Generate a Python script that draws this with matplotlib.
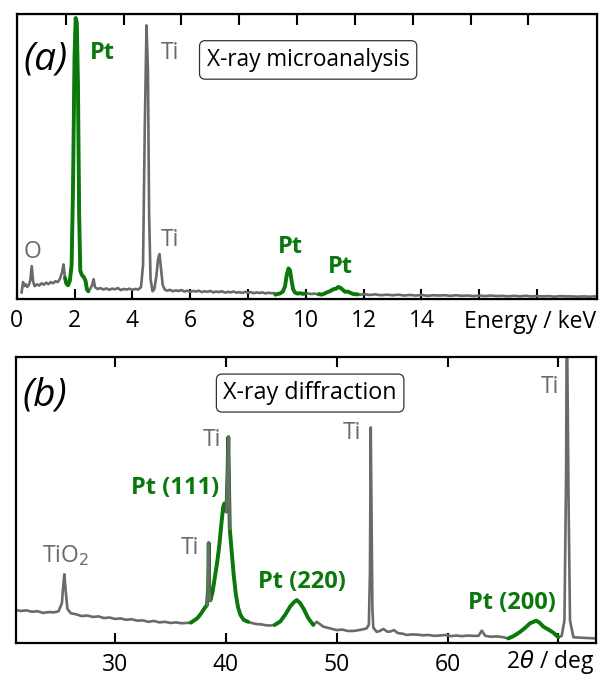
import numpy as np
import matplotlib
matplotlib.use('Agg')
import matplotlib.pyplot as plt

plt.rcParams['font.family'] = ['Open Sans', 'DejaVu Sans']

GREY = '#6a6a6a'
GREEN = '#0a780a'

# (a) X-ray microanalysis spectrum, energy in keV, counts in arbitrary units
eds_energy = [0.17, 0.22, 0.27, 0.32, 0.37, 0.42, 0.47, 0.52, 0.57, 0.62, 0.70, 0.78,
              0.86, 0.94, 1.02, 1.10, 1.18, 1.26, 1.34, 1.42, 1.50, 1.57, 1.62, 1.67,
              1.72, 1.78, 1.84, 1.90, 1.95, 2.00, 2.04, 2.08, 2.12, 2.16, 2.20, 2.26,
              2.32, 2.38, 2.43, 2.48, 2.55, 2.61, 2.66, 2.71, 2.80, 2.90, 3.00, 3.10,
              3.20, 3.30, 3.40, 3.50, 3.60, 3.70, 3.80, 3.90, 4.00, 4.10, 4.20, 4.30,
              4.37, 4.43, 4.49, 4.54, 4.58, 4.63, 4.70, 4.76, 4.83, 4.89, 4.94, 4.99,
              5.05, 5.12, 5.20, 5.30, 5.40, 5.50, 5.60, 5.70, 5.80, 5.90, 6.00, 6.10,
              6.20, 6.30, 6.40, 6.50, 6.60, 6.70, 6.80, 6.90, 7.00, 7.10, 7.20, 7.30,
              7.40, 7.50, 7.60, 7.70, 7.80, 7.90, 8.00, 8.10, 8.20, 8.30, 8.40, 8.50,
              8.60, 8.70, 8.80, 8.90, 8.95, 9.00, 9.10, 9.20, 9.28, 9.34, 9.40, 9.45,
              9.50, 9.56, 9.62, 9.70, 9.80, 9.90, 9.99, 10.10, 10.20, 10.30, 10.40, 10.45,
              10.55, 10.65, 10.75, 10.85, 10.95, 11.05, 11.12, 11.20, 11.28, 11.36, 11.45, 11.55,
              11.65, 11.80, 11.90, 12.00, 12.20, 12.40, 12.60, 12.80, 13.00, 13.20, 13.40, 13.60,
              13.80, 14.00, 14.20, 14.40, 14.60, 14.80, 15.00, 15.20, 15.40, 15.60, 15.80, 16.00,
              16.20, 16.40, 16.60, 16.80, 17.00, 17.20, 17.40, 17.60, 17.80, 18.00, 18.20, 18.40,
              18.60, 18.80, 19.00, 19.20, 19.40, 19.60, 19.80, 20.00]
eds_counts = [2.4, 6.0, 4.6, 5.2, 4.3, 5.0, 6.5, 11.6, 6.2, 4.6, 5.2, 4.8,
              5.6, 5.1, 5.8, 5.3, 6.0, 5.6, 6.3, 6.0, 7.2, 9.5, 12.2, 7.5,
              5.4, 4.9, 6.5, 12.0, 40.0, 85.0, 98.6, 97.0, 75.0, 30.0, 10.0, 8.4,
              7.8, 6.5, 3.4, 2.8, 3.8, 5.0, 7.0, 4.2, 3.6, 3.9, 3.4, 3.8,
              3.3, 3.7, 3.5, 3.9, 3.2, 3.6, 3.4, 3.7, 3.3, 3.6, 3.4, 4.2,
              12.0, 60.0, 96.0, 80.0, 30.0, 7.0, 2.8, 3.5, 8.0, 14.0, 15.8, 11.0,
              5.0, 3.4, 3.0, 3.3, 2.8, 3.1, 2.9, 3.2, 2.7, 3.0, 2.6, 2.9,
              2.7, 3.0, 2.5, 2.8, 2.6, 2.9, 2.4, 2.7, 2.5, 2.8, 2.3, 2.6,
              2.4, 2.7, 2.3, 2.5, 2.2, 2.6, 2.3, 2.5, 2.1, 2.4, 2.2, 2.4,
              2.0, 2.3, 2.1, 2.2, 1.6, 1.8, 2.0, 2.6, 4.5, 8.5, 10.8, 10.2,
              7.0, 3.5, 2.4, 2.0, 2.1, 1.9, 2.0, 2.0, 1.8, 2.0, 1.7, 1.8,
              1.6, 2.0, 2.5, 2.9, 3.5, 3.7, 4.3, 4.0, 3.3, 2.6, 2.7, 2.2,
              1.8, 1.7, 1.6, 1.8, 1.5, 1.7, 1.4, 1.6, 1.4, 1.6, 1.3, 1.5,
              1.3, 1.5, 1.2, 1.4, 1.3, 1.4, 1.2, 1.4, 1.2, 1.3, 1.1, 1.3,
              1.1, 1.3, 1.1, 1.2, 1.0, 1.2, 1.0, 1.2, 1.0, 1.1, 1.0, 1.1,
              0.9, 1.1, 1.0, 1.0, 0.9, 1.0, 0.9, 1.0]
# energy ranges assigned to Pt lines
eds_pt_ranges = [(1.67, 2.48), (8.95, 9.99), (10.45, 11.80)]

# (b) X-ray diffraction pattern, 2theta in deg, intensity in arbitrary units
xrd_angle = [21.06, 21.5, 22.0, 22.5, 23.0, 23.5, 24.0, 24.5, 24.9, 25.2, 25.32, 25.42,
             25.55, 25.7, 26.0, 26.5, 27.0, 27.5, 28.0, 28.5, 29.0, 29.5, 30.0, 30.5,
             31.0, 31.5, 32.0, 32.5, 33.0, 33.5, 34.0, 34.5, 35.0, 35.5, 36.0, 36.4,
             36.83, 37.1, 37.4, 37.65, 37.86, 38.1, 38.3, 38.40, 38.45, 38.50, 38.6, 38.8,
             38.96, 39.2, 39.4, 39.6, 39.75, 39.85, 39.95, 40.05, 40.15, 40.22, 40.28, 40.35,
             40.5, 40.7, 40.9, 41.1, 41.3, 41.6, 42.0, 42.4, 42.8, 43.2, 43.6, 44.0,
             44.4, 44.9, 45.34, 45.79, 46.1, 46.39, 46.7, 46.99, 47.44, 47.89, 48.2, 48.8,
             49.4, 50.0, 50.5, 51.0, 51.5, 52.0, 52.4, 52.7, 52.9, 53.0, 53.07, 53.15,
             53.22, 53.3, 53.6, 53.9, 54.2, 54.6, 54.9, 55.17, 55.5, 56.0, 56.3, 56.8,
             57.3, 57.8, 58.3, 58.8, 59.3, 59.8, 60.3, 60.8, 61.3, 61.8, 62.3, 62.8,
             63.09, 63.4, 63.9, 64.4, 64.9, 65.49, 66.0, 66.55, 67.0, 67.45, 68.0, 68.3,
             68.65, 69.1, 69.55, 70.0, 70.3, 70.55, 70.7, 70.76, 70.85, 70.92, 71.05, 71.36,
             71.8, 72.3, 72.8, 73.4]
xrd_intensity = [11.6, 11.3, 11.5, 11.0, 11.2, 10.6, 10.9, 10.8, 11.2, 14.0, 20.0, 24.1,
                 18.0, 12.0, 10.5, 10.1, 9.5, 9.7, 9.2, 9.4, 8.8, 9.0, 8.5, 8.7,
                 8.2, 8.4, 7.9, 8.0, 7.5, 7.8, 7.3, 7.5, 7.1, 7.3, 7.0, 7.1,
                 7.2, 7.9, 8.7, 9.8, 11.0, 12.4, 13.4, 20.0, 35.0, 18.0, 15.0, 18.0,
                 22.0, 28.0, 34.0, 42.0, 47.5, 48.8, 48.0, 46.0, 60.0, 72.0, 55.0, 40.0,
                 33.0, 24.0, 17.0, 12.5, 10.0, 8.2, 7.5, 7.0, 6.7, 6.6, 6.3, 6.2,
                 6.4, 7.6, 9.9, 12.8, 14.2, 15.1, 14.0, 12.2, 8.7, 6.4, 7.5, 5.8,
                 5.2, 4.6, 4.8, 4.3, 4.3, 4.6, 4.9, 5.2, 6.5, 25.0, 75.4, 39.5,
                 12.0, 5.5, 4.0, 4.3, 5.0, 4.0, 4.2, 4.6, 3.6, 3.3, 2.9, 3.1,
                 3.0, 2.8, 2.9, 2.6, 2.7, 2.9, 2.5, 2.7, 2.5, 2.7, 2.6, 2.6,
                 4.4, 2.6, 2.3, 2.4, 2.2, 1.7, 2.6, 4.0, 5.4, 7.0, 7.9, 7.2,
                 5.8, 4.8, 3.7, 2.1, 2.6, 8.0, 60.0, 120.0, 80.0, 50.0, 8.0, 2.1,
                 2.0, 1.9, 1.8, 1.7]
xrd_pt_ranges = [(36.83, 42.0), (44.4, 47.89), (65.49, 70.0)]
# narrow Ti reflections drawn over the Pt(111) band
xrd_ti_spikes = [(38.3, 38.6), (40.05, 40.35)]


def draw_pattern(ax, x, y, pt_ranges, ti_spikes=()):
    x = np.asarray(x)
    y = np.asarray(y)
    ax.plot(x, y, color=GREY, lw=1.9, zorder=2)
    for lo, hi in pt_ranges:
        m = (x >= lo) & (x <= hi)
        ax.plot(x[m], y[m], color=GREEN, lw=2.8, zorder=3, solid_capstyle='round')
    for lo, hi in ti_spikes:
        m = (x >= lo) & (x <= hi)
        ax.plot(x[m], y[m], color=GREY, lw=1.9, zorder=4)


def style_axes(ax):
    for s in ax.spines.values():
        s.set_linewidth(1.6)
    ax.set_yticks([])
    ax.tick_params(axis='x', which='both', direction='in', length=7, width=1.5,
                   labelsize=16.5, pad=7, top=False)


fig = plt.figure(figsize=(6.02, 6.77), dpi=100)

# ---- panel (a)
ax1 = fig.add_axes([0.0277, 0.5580, 0.9640, 0.4213])
draw_pattern(ax1, eds_energy, eds_counts, eds_pt_ranges)
ax1.set_xlim(0, 20.07)
ax1.set_ylim(0, 100)
style_axes(ax1)
ax1.set_xticks(np.arange(0, 19, 2))
ax1.set_xticklabels(['0', '2', '4', '6', '8', '10', '12', '14', '', ''])
top1 = ax1.twiny()
top1.set_xlim(ax1.get_xlim())
top1.set_xticks(np.arange(1.7, 18, 2))
top1.tick_params(axis='x', direction='in', length=8, width=1.5, labeltop=False)

ax1.text(0.049, 0.84, '(a)', transform=ax1.transAxes, fontsize=28, style='italic',
         ha='center', va='center')
ax1.text(0.885, -0.102, 'Energy / keV', transform=ax1.transAxes, fontsize=16.5,
         ha='center', va='baseline')
ax1.text(10.08, 83.9, 'X-ray microanalysis', fontsize=16.3, ha='center', va='center',
         bbox=dict(boxstyle='round,pad=0.32,rounding_size=0.25', fc='white', ec='#333333', lw=0.9))
ax1.text(2.95, 86.3, 'Pt', color=GREEN, fontsize=17, fontweight='bold', ha='center', va='center')
ax1.text(5.31, 86.3, 'Ti', color=GREY, fontsize=16.5, ha='center', va='center')
ax1.text(0.54, 16.5, 'O', color=GREY, fontsize=16.5, ha='center', va='center')
ax1.text(5.31, 20.7, 'Ti', color=GREY, fontsize=16.5, ha='center', va='center')
ax1.text(9.46, 18.2, 'Pt', color=GREEN, fontsize=17, fontweight='bold', ha='center', va='center')
ax1.text(11.19, 11.2, 'Pt', color=GREEN, fontsize=17, fontweight='bold', ha='center', va='center')

# ---- panel (b)
ax2 = fig.add_axes([0.0266, 0.0498, 0.9635, 0.4229])
draw_pattern(ax2, xrd_angle, xrd_intensity, xrd_pt_ranges, xrd_ti_spikes)
ax2.set_xlim(21.06, 73.4)
ax2.set_ylim(0, 100)
style_axes(ax2)
ax2.set_xticks([30, 40, 50, 60, 70])
ax2.set_xticklabels(['30', '40', '50', '60', ''])
ax2.tick_params(axis='x', top=True)

ax2.text(0.05, 0.867, '(b)', transform=ax2.transAxes, fontsize=28, style='italic',
         ha='center', va='center')
ax2.text(0.921, -0.088, r'2$\theta$ / deg', transform=ax2.transAxes, fontsize=16.5,
         ha='center', va='baseline')
ax2.text(47.6, 87.4, 'X-ray diffraction', fontsize=16.8, ha='center', va='center',
         bbox=dict(boxstyle='round,pad=0.3,rounding_size=0.25', fc='white', ec='#333333', lw=0.9))
ax2.text(25.48, 30.5, r'TiO$_2$', color=GREY, fontsize=16.5, ha='center', va='center')
ax2.text(36.76, 33.3, 'Ti', color=GREY, fontsize=16.5, ha='center', va='center')
ax2.text(38.72, 71.0, 'Ti', color=GREY, fontsize=16.5, ha='center', va='center')
ax2.text(51.36, 73.3, 'Ti', color=GREY, fontsize=16.5, ha='center', va='center')
ax2.text(69.26, 89.6, 'Ti', color=GREY, fontsize=16.5, ha='center', va='center')
ax2.text(35.41, 54.1, 'Pt (111)', color=GREEN, fontsize=17, fontweight='bold', ha='center', va='center')
ax2.text(46.84, 21.5, 'Pt (220)', color=GREEN, fontsize=17, fontweight='bold', ha='center', va='center')
ax2.text(65.8, 14.0, 'Pt (200)', color=GREEN, fontsize=17, fontweight='bold', ha='center', va='center')

fig.savefig('out.png', dpi=100)
